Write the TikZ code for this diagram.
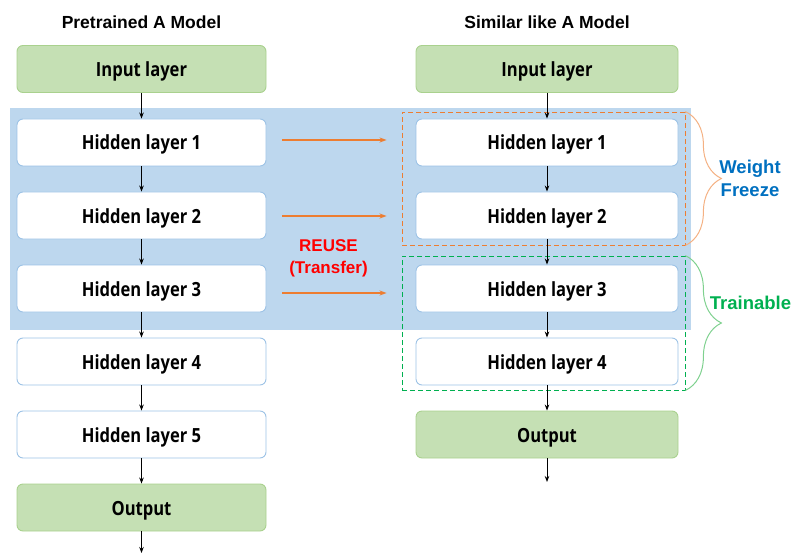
\documentclass[tikz,border=0pt]{standalone}
\usepackage{fontspec}
\setmainfont{Liberation Sans}
\newfontfamily\boxfont[FakeStretch=0.85]{Open Sans}
\usetikzlibrary{arrows.meta,decorations.pathreplacing}

\definecolor{zoneblue}{HTML}{BDD7EE}
\definecolor{layerline}{HTML}{9DC3E6}
\definecolor{iofill}{HTML}{C5E0B4}
\definecolor{ioline}{HTML}{A9D18E}
\definecolor{reuseorange}{HTML}{ED7D31}
\definecolor{braceorange}{HTML}{F4B183}
\definecolor{freezeblue}{HTML}{0070C0}
\definecolor{traingreen}{HTML}{00B050}
\definecolor{bracegreen}{HTML}{7FD18F}

\tikzset{
  layer/.style={draw=layerline, fill=white, rounded corners=6pt, line width=0.9pt,
    minimum height=47pt, inner sep=0pt, text height=15pt, text depth=0pt,
    font=\boxfont\bfseries\fontsize{19.5}{22}\selectfont},
  leftcol/.style={layer, minimum width=249pt},
  rightcol/.style={layer, minimum width=262pt},
  io/.style={draw=ioline, fill=iofill},
  flow/.style={-{Stealth[length=6pt,width=4.5pt]}, line width=0.8pt, black},
  reuse/.style={-{Stealth[length=7pt,width=5pt]}, line width=1.5pt, reuseorange},
  title/.style={anchor=base, inner sep=0pt, font=\bfseries\fontsize{17.5}{20}\selectfont},
  side/.style={inner sep=0pt, align=center, font=\bfseries\fontsize{18.5}{23}\selectfont},
  groupframe/.style={draw, dash pattern=on 5pt off 3pt, line width=0.8pt, minimum width=283pt},
  bracket/.style={decorate, decoration={brace, amplitude=36pt, aspect=0.5}, line width=1pt}
}

\begin{document}
\begin{tikzpicture}[x=1pt, y=-1pt]
\useasboundingbox (0,0) rectangle (791,553);

% shaded region of reused layers
\node[fill=zoneblue, minimum width=681pt, minimum height=222pt, inner sep=0pt] (zone) at (350.5,219) {};

% column titles
\node[title] (ttlL) at (141.5,28.5) {Pretrained A Model};
\node[title] (ttlR) at (547,28.5) {Similar like A Model};

% pretrained model
\node[leftcol, io] (Lin) at (141.5,69) {Input layer};
\node[leftcol] (L1) at (141.5,142.5) {Hidden layer 1};
\node[leftcol] (L2) at (141.5,215.5) {Hidden layer 2};
\node[leftcol] (L3) at (141.5,288.5) {Hidden layer 3};
\node[leftcol] (L4) at (141.5,361.5) {Hidden layer 4};
\node[leftcol] (L5) at (141.5,434.5) {Hidden layer 5};
\node[leftcol, io] (Lout) at (141.5,507.5) {Output};
\coordinate (Lend) at (141.5,553);

% frozen / trainable groups
\node[groupframe, draw=reuseorange, minimum height=133pt] (frz) at (543.5,178.5) {};
\node[groupframe, draw=traingreen, minimum height=134pt] (trn) at (543.5,323) {};

% target model
\node[rightcol, io] (Rin) at (547,69) {Input layer};
\node[rightcol] (R1) at (547,142.5) {Hidden layer 1};
\node[rightcol] (R2) at (547,215.5) {Hidden layer 2};
\node[rightcol] (R3) at (547,288.5) {Hidden layer 3};
\node[rightcol] (R4) at (547,361.5) {Hidden layer 4};
\node[rightcol, io] (Rout) at (547,434.5) {Output};
\coordinate (Rend) at (547,482);

% forward connections
\foreach \a/\b in {Lin/L1, L1/L2, L2/L3, L3/L4, L4/L5, L5/Lout, Rin/R1, R1/R2, R2/R3, R3/R4, R4/Rout}
  \draw[flow] (\a.south) -- (\b.north);
\draw[flow] (Lout.south) -- (Lend);
\draw[flow] (Rout.south) -- (Rend);

% transfer arrows
\draw[reuse] ([xshift=16pt, yshift=2.5pt]L1.east) -- ([xshift=-29pt, yshift=2.5pt]R1.west);
\draw[reuse] ([xshift=16pt, yshift=-0.5pt]L2.east) -- ([xshift=-29pt, yshift=-0.5pt]R2.west);
\draw[reuse] ([xshift=16pt, yshift=-4.5pt]L3.east) -- ([xshift=-29pt, yshift=-4.5pt]R3.west);
\node[side, text=red, font=\bfseries\fontsize{17}{22}\selectfont] (reuselbl) at (328.5,258.7) {REUSE\\(Transfer)};

% group braces and labels
\draw[bracket, braceorange] (frz.north east) -- (frz.south east);
\node[side, text=freezeblue] (frzlbl) at (750,178.7) {Weight\\Freeze};
\draw[bracket, bracegreen] (trn.north east) -- (trn.south east);
\node[side, text=traingreen] (trnlbl) at (750.5,303.3) {Trainable};
\end{tikzpicture}
\end{document}
